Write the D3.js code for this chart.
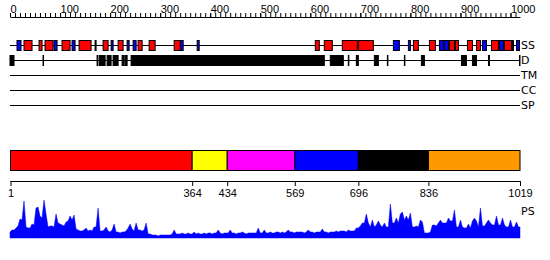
<!DOCTYPE html>
<html>
<head>
<meta charset="utf-8">
<script src="https://cdn.jsdelivr.net/npm/d3@7"></script>
<style>
  body { margin: 0; background: #fff; }
  svg { display: block; font-family: "DejaVu Sans", sans-serif; }
  .axis path, .axis line { stroke: #000; }
  .axis text { fill: #000; font-size: 11px; }
  .lbl { font-size: 11px; fill: #000; }
</style>
</head>
<body>
<svg width="550" height="260"></svg>
<script>
var seqLength = 1019;

// secondary structure (residue ranges)
var helices = [[28,44],[58,64],[70,86],[104,120],[138,162],[186,196],[216,226],[256,264],[278,290],
  [328,340],[610,618],[628,644],[664,694],[696,726],[806,816],[838,850],[878,888],[890,896],
  [914,924],[932,940],[962,976],[988,1002]];
var strands = [[14,22],[88,94],[124,130],[170,172],[202,206],[234,238],[246,252],[340,346],[374,378],
  [766,778],[796,800],[858,866],[868,876],[944,952],[978,986],[1004,1006],[1012,1018]];
var ssMarks = [50,266,648,762,784,930,1008];

// disordered regions
var disorder = [[0,8],[66,67],[174,175],[178,190],[194,202],[206,216],[224,228],[230,234],[242,628],
  [640,666],[676,677],[692,696],[728,736],[754,755],[788,789],[822,828],[902,912],[924,932],
  [956,958],[1018,1019]];

var trackNames = ["SS", "D", "TM", "CC", "SP"];

// domain boundaries
var domainStarts = [1, 364, 434, 569, 696, 836];
var domainEnds = [364, 434, 569, 696, 836, 1019];
var domainColors = ["#ff0000", "#ffff00", "#ff00ff", "#0000ff", "#000000", "#ff9900"];
var domainTicks = [1, 364, 434, 569, 696, 836, 1019];

// PS profile, one value every 4 residues
var psStep = 4;
var psValues = [
  6,8,8,10,12,19,18,37,11,10,10,14,13,30,31,22,20,38,24,11,
  12,12,11,24,15,14,13,12,16,17,22,18,23,9,8,7,7,8,10,7,
  8,7,11,11,30,7,7,8,11,7,6,8,14,6,6,5,6,6,7,10,
  14,9,7,15,8,8,7,8,15,4,4,3,3,3,2,3,3,3,3,3,
  3,4,8,4,4,4,5,4,4,5,4,4,6,4,5,4,4,5,4,5,
  5,4,5,5,8,5,4,5,5,5,8,5,5,4,5,5,6,5,4,5,
  5,5,5,5,10,5,5,8,5,5,6,5,5,6,6,5,6,5,6,8,
  6,6,5,6,6,6,6,5,6,8,6,6,5,6,6,6,9,6,6,5,
  6,6,6,7,6,7,7,7,6,8,7,7,7,10,10,12,15,15,24,15,
  11,18,11,13,17,13,11,15,11,11,34,15,15,20,15,24,26,18,22,18,
  25,11,11,12,11,18,16,5,5,5,6,13,13,12,15,18,15,15,15,20,
  17,17,28,11,11,18,11,10,10,14,10,17,20,17,11,30,12,12,15,18,
  15,13,13,22,13,13,20,13,11,11,18,11,11,16,11,11
];

var svg = d3.select("svg");

var x = d3.scaleLinear().domain([0, seqLength]).range([10, 520]);
var rowY = d3.scalePoint().domain(trackNames).range([45, 105]);
var yPS = d3.scaleLinear().domain([0, 38]).range([238, 200]);

// ruler at the top
svg.append("g")
    .attr("class", "axis")
    .attr("transform", "translate(0,17)")
    .call(d3.axisTop(x).tickValues(d3.range(0, 1011, 10)).tickSize(4).tickSizeOuter(0).tickFormat(""));

svg.append("g")
    .attr("class", "axis")
    .attr("transform", "translate(0,17)")
    .call(d3.axisTop(x).tickValues(d3.range(0, 1001, 100)).tickSize(4).tickPadding(0).tickFormat(d3.format("d")))
    .call(function(g) { g.select(".domain").remove(); })
    .selectAll("text")
      .attr("text-anchor", "start")
      .attr("dy", "0");

// track lines and labels
svg.selectAll(".track")
  .data(trackNames)
  .enter().append("line")
    .attr("x1", x(0))
    .attr("x2", x(seqLength))
    .attr("y1", function(d) { return rowY(d) + 0.5; })
    .attr("y2", function(d) { return rowY(d) + 0.5; })
    .attr("stroke", "#000");

svg.selectAll(".trackLabel")
  .data(trackNames)
  .enter().append("text")
    .attr("class", "lbl")
    .attr("x", 521)
    .attr("y", function(d) { return rowY(d); })
    .attr("dy", "0.36em")
    .text(function(d) { return d; });

function boxes(data, row, color) {
  svg.append("g").selectAll("rect")
    .data(data)
    .enter().append("rect")
      .attr("x", function(d) { return x(d[0]); })
      .attr("width", function(d) { return Math.max(0, x(d[1]) - x(d[0])); })
      .attr("y", rowY(row) - 4.5)
      .attr("height", 10)
      .attr("fill", color)
      .attr("stroke", "#000")
      .attr("stroke-width", 1);
}

boxes(strands, "SS", "#0000ff");
boxes(helices, "SS", "#ff0000");
boxes(ssMarks.map(function(d) { return [d, d]; }), "SS", "#000");
boxes(disorder, "D", "#000");

// domain bar
svg.append("g").selectAll("rect")
  .data(domainStarts)
  .enter().append("rect")
    .attr("x", function(d) { return x(d); })
    .attr("width", function(d, i) { return x(domainEnds[i]) - x(d); })
    .attr("y", 150.5)
    .attr("height", 20)
    .attr("fill", function(d, i) { return domainColors[i]; })
    .attr("stroke", "#000")
    .attr("stroke-width", 1);

svg.append("g")
    .attr("class", "axis")
    .attr("transform", "translate(0,181)")
    .call(d3.axisBottom(x).tickValues(domainTicks).tickSize(5).tickSizeOuter(0).tickFormat(d3.format("d")));

// PS profile
var area = d3.area()
    .x(function(d, i) { return x(Math.min(i * psStep, seqLength)); })
    .y0(yPS(0))
    .y1(function(d) { return yPS(d); });

svg.append("path")
    .datum(psValues)
    .attr("d", area)
    .attr("fill", "#0000ff")
    .attr("stroke", "#0000ff")
    .attr("stroke-width", 0.5);

svg.append("text")
    .attr("class", "lbl")
    .attr("x", 521)
    .attr("y", 211)
    .attr("dy", "0.36em")
    .text("PS");
</script>
</body>
</html>
